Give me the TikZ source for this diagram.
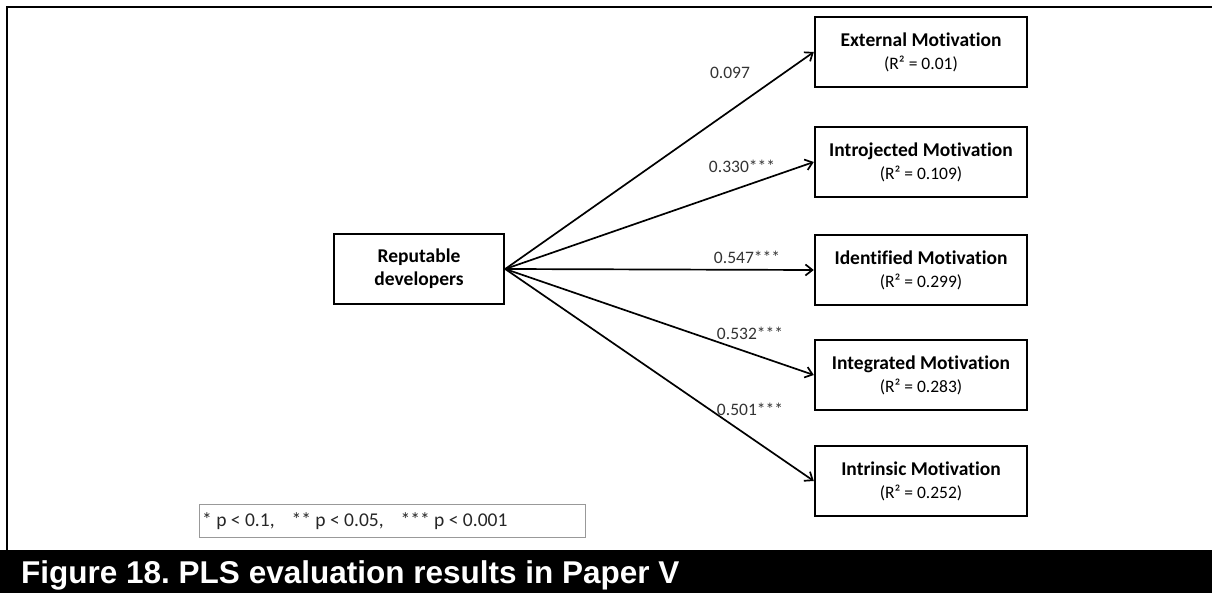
\documentclass[tikz,border=0pt]{standalone}
\usepackage{fontspec}
\setmainfont{Carlito}[Ligatures=CommonOff]
\newfontfamily\capfont{Liberation Sans}
\newcommand\rsqfont{\fontsize{17.5}{23}\selectfont\mdseries}
\usetikzlibrary{arrows.meta}
\frenchspacing
\begin{document}
\begin{tikzpicture}[x=1pt,y=-1pt,
  construct/.style={draw=black,line width=2.4pt,minimum width=212pt,minimum height=70pt,
    align=center,inner sep=0pt,font=\fontsize{19.5}{23}\selectfont},
  path/.style={line width=1.7pt,-{Straight Barb[length=7pt,width=11pt,line width=1.7pt]}},
  coef/.style={font=\fontsize{17.5}{20}\selectfont,text=black!80,inner sep=0pt}]
  \useasboundingbox (0,0) rectangle (1212,593);
  % outer frame and caption bar
  \draw[line width=2.5pt] (7,551) -- (7,7) -- (1212,7);
  \fill[black] (0,550) rectangle (1212,593);
  \node[anchor=base west,text=white,inner sep=0pt,font=\capfont\bfseries\fontsize{31.5}{34}\selectfont]
    (caption) at (21,583) {Figure 18. PLS evaluation results in Paper V};
  % constructs
  \node[construct,minimum width=170pt] (rep) at (419,269) {\textbf{Reputable}\\\textbf{developers}};
  \node[construct] (ext) at (921,52) {\textbf{External Motivation}\\{\rsqfont(R² = 0.01)}};
  \node[construct] (intro) at (921,162) {\textbf{Introjected Motivation}\\{\rsqfont(R² = 0.109)}};
  \node[construct] (ident) at (921,270) {\textbf{Identified Motivation}\\{\rsqfont(R² = 0.299)}};
  \node[construct] (integ) at (921,375) {\textbf{Integrated Motivation}\\{\rsqfont(R² = 0.283)}};
  \node[construct] (intr) at (921,481) {\textbf{Intrinsic Motivation}\\{\rsqfont(R² = 0.252)}};
  % structural paths
  \draw[path] (rep.east) -- (ext.west);
  \draw[path] (rep.east) -- (intro.west);
  \draw[path] (rep.east) -- (ident.west);
  \draw[path] (rep.east) -- (integ.west);
  \draw[path] (rep.east) -- (intr.west);
  % path coefficients
  \node[coef] (c1) at (730,73) {0.097};
  \node[coef] (c2) at (742,166) {0.330***};
  \node[coef] (c3) at (747,257) {0.547***};
  \node[coef] (c4) at (750,333) {0.532***};
  \node[coef] (c5) at (750,409) {0.501***};
  % significance legend
  \node[draw=black!40,line width=0.9pt,anchor=north west,minimum width=386pt,minimum height=33pt,
    inner sep=0pt] (legend) at (199,504) {};
  \node[anchor=base west,inner sep=0pt,font=\fontsize{19.5}{22}\selectfont,text=black!85]
    (legtext) at (202,526) {* p < 0.1,\hspace{17pt}** p < 0.05,\hspace{17pt}*** p < 0.001};
\end{tikzpicture}
\end{document}
